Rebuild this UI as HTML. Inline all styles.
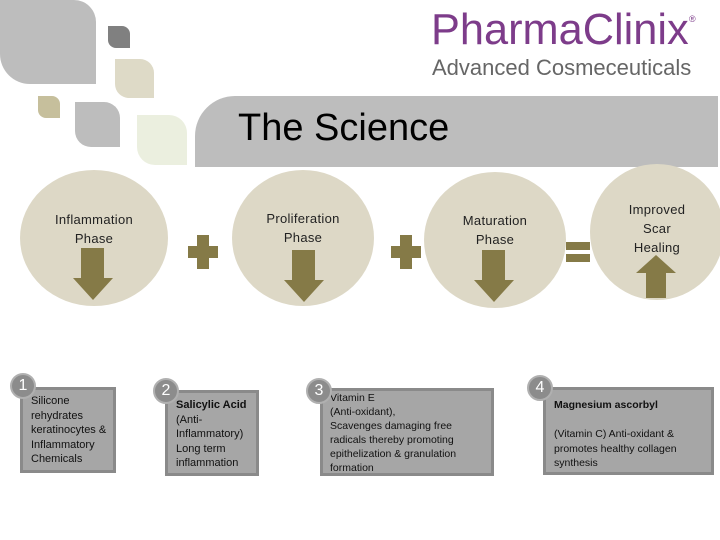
<!DOCTYPE html>
<html><head><style>
body{margin:0;width:720px;height:540px;position:relative;background:#fff;overflow:hidden;font-family:"Liberation Sans",sans-serif}
.a{position:absolute}
.leaf{position:absolute;border-radius:0 18px 0 18px}
.c{position:absolute;border-radius:50%;background:#ddd8c6}
.ph{position:absolute;text-align:center;font-size:13px;color:#222;line-height:19px;letter-spacing:.3px}
.box{position:absolute;background:#a6a6a6;border:3px solid #8a8a8a;font-size:11px;line-height:14.5px;color:#111;padding:4px 6px;box-sizing:border-box}
.n{position:absolute;width:22px;height:22px;border-radius:50%;background:#8c8c8c;border:2px solid #b0b0b0;color:#fff;font-size:16px;text-align:center;line-height:22px}
</style></head><body>
<div class="leaf" style="left:0;top:0;width:96px;height:84px;background:#bdbdbd;border-radius:0 22px 0 30px"></div>
<div class="leaf" style="left:108px;top:26px;width:22px;height:22px;background:#808080;border-radius:0 8px 0 8px"></div>
<div class="leaf" style="left:115px;top:59px;width:39px;height:39px;background:#dedac7;border-radius:0 14px 0 14px"></div>
<div class="leaf" style="left:38px;top:96px;width:22px;height:22px;background:#c6bf9c;border-radius:0 8px 0 8px"></div>
<div class="leaf" style="left:75px;top:102px;width:45px;height:45px;background:#bdbdbd;border-radius:0 16px 0 16px"></div>
<div class="leaf" style="left:137px;top:115px;width:50px;height:50px;background:#ebefdf;border-radius:0 18px 0 18px"></div>
<div class="a" style="left:195px;top:96px;width:523px;height:71px;background:#bdbdbd;border-radius:40px 0 0 0"></div>
<div class="a" style="left:238px;top:107px;font-size:38px;color:#000">The Science</div>
<div class="a" style="left:431px;top:5px;font-size:44px;color:#7d3c8a;transform-origin:0 0;transform:scaleX(0.985)">PharmaClinix</div>
<div class="a" style="left:689px;top:14px;font-size:9px;color:#7d3c8a">®</div>
<div class="a" style="left:432px;top:55px;font-size:22px;color:#666">Advanced Cosmeceuticals</div>

<div class="c" style="left:20px;top:170px;width:148px;height:136px"></div>
<div class="c" style="left:232px;top:170px;width:142px;height:136px"></div>
<div class="c" style="left:424px;top:172px;width:142px;height:136px"></div>
<div class="c" style="left:590px;top:164px;width:134px;height:136px"></div>
<div class="ph" style="left:20px;top:210px;width:148px">Inflammation<br>Phase</div>
<div class="ph" style="left:232px;top:209px;width:142px">Proliferation<br>Phase</div>
<div class="ph" style="left:424px;top:211px;width:142px">Maturation<br>Phase</div>
<div class="ph" style="left:590px;top:200px;width:134px">Improved<br>Scar<br>Healing</div>

<svg class="a" style="left:0;top:0" width="720" height="540">
<g fill="#857a47">
<polygon points="81,248 104,248 104,278 113,278 93,300 73,278 81,278"/>
<polygon points="292,250 315,250 315,280 324,280 304,302 284,280 292,280"/>
<polygon points="482,250 505,250 505,280 514,280 494,302 474,280 482,280"/>
<polygon points="646,298 666,298 666,273 676,273 656,255 636,273 646,273"/>
<rect x="197" y="235" width="12" height="34"/><rect x="188" y="246" width="30" height="12"/>
<rect x="400" y="235" width="12" height="34"/><rect x="391" y="246" width="30" height="12"/>
<rect x="566" y="242" width="24" height="8"/><rect x="566" y="254" width="24" height="8"/>
</g></svg>

<div class="box" style="left:20px;top:387px;width:96px;height:86px;padding-left:8px">Silicone rehydrates keratinocytes &amp; Inflammatory Chemicals</div>
<div class="n" style="left:10px;top:373px">1</div>
<div class="box" style="left:165px;top:390px;width:94px;height:86px;padding-left:8px;padding-top:5px"><b>Salicylic Acid</b><br>(Anti-Inflammatory) Long term inflammation</div>
<div class="n" style="left:153px;top:378px">2</div>
<div class="box" style="left:320px;top:388px;width:174px;height:88px;padding-top:0;padding-left:7px;font-size:10.5px;line-height:14px">Vitamin E<br>(Anti-oxidant),<br>Scavenges damaging free radicals thereby promoting epithelization &amp; granulation formation</div>
<div class="n" style="left:306px;top:378px">3</div>
<div class="box" style="left:543px;top:387px;width:171px;height:88px;padding-top:8px;padding-left:8px;font-size:10.5px"><b>Magnesium ascorbyl</b><br><br>(Vitamin C) Anti-oxidant &amp; promotes healthy collagen synthesis</div>
<div class="n" style="left:527px;top:375px">4</div>
</body></html>
